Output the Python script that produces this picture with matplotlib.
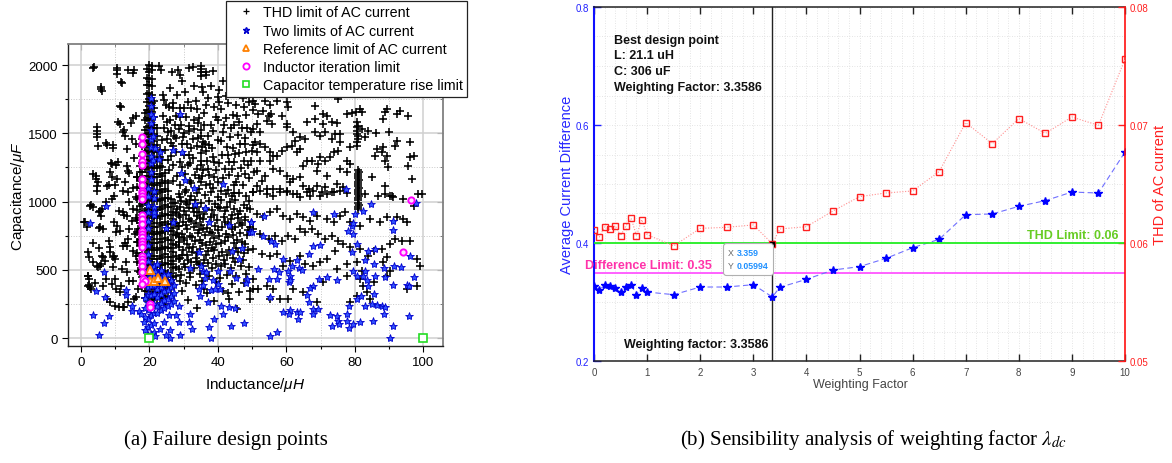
import matplotlib
matplotlib.use('Agg')
import matplotlib.pyplot as plt
from matplotlib.ticker import MultipleLocator, FuncFormatter
from matplotlib.lines import Line2D
from matplotlib.offsetbox import TextArea, HPacker, AnnotationBbox

plt.rcParams['font.family'] = ['Liberation Sans', 'DejaVu Sans']
plt.rcParams['mathtext.fontset'] = 'custom'
plt.rcParams['mathtext.it'] = 'Liberation Sans:italic'
plt.rcParams['mathtext.rm'] = 'Liberation Sans'

# ---------------- (a) failure design points : (Inductance uH, Capacitance uF) ----------------
thd_band_cols = [16.5, 17.2, 17.9, 18.6, 19.3, 20.0, 20.7, 21.4, 22.2, 23.0, 23.8, 24.6, 25.4, 26.2, 27.0, 27.8, 28.5]
thd_band_C = [
    [622, 703, 778, 862, 941, 1018, 1103, 1178],
    [482, 547, 603, 671, 722, 794, 846, 903, 971, 1028, 1097, 1148, 1215, 1258],
    [382, 448, 498, 563, 618, 687, 743, 802, 863, 924, 981, 1043, 1102, 1164, 1217, 1283, 1332, 1404, 1458],
    [291, 348, 412, 463, 527, 583, 642, 698, 763, 812, 883, 932, 998, 1052, 1113, 1167, 1238, 1286, 1353, 1407, 1472,
     1527, 1594, 1646],
    [292, 348, 413, 467, 533, 587, 652, 707, 773, 827, 892, 948, 1013, 1067, 1132, 1188, 1253, 1307, 1372, 1428, 1493,
     1547, 1613, 1667, 1732, 1787, 1853, 1907, 1972],
    [562, 617, 683, 737, 803, 857, 923, 977, 1043, 1097, 1163, 1217, 1283, 1337, 1403, 1447, 1503, 1552, 1598, 1653,
     1697, 1752, 1798, 1853, 1897, 1952, 1998],
    [282, 338, 403, 457, 523, 577, 643, 697, 763, 817, 883, 937, 1003, 1057, 1123, 1177, 1243, 1297, 1363, 1417, 1483,
     1537, 1603, 1657, 1723, 1777, 1843, 1897, 1963, 1994],
    [243, 297, 363, 417, 483, 537, 603, 657, 723, 777, 843, 897, 963, 1017, 1083, 1137, 1203, 1257, 1323, 1377, 1443,
     1497, 1563, 1617, 1683, 1738],
    [283, 337, 403, 457, 523, 577, 643, 697, 763, 817, 883, 937, 1003, 1057, 1123, 1177, 1243, 1297, 1363, 1417, 1483,
     1536],
    [242, 298, 363, 417, 483, 537, 603, 657, 723, 777, 843, 897, 963, 1017, 1083, 1137, 1203, 1257, 1323, 1378],
    [292, 348, 413, 467, 533, 587, 653, 707, 773, 827, 893, 947, 1013, 1067, 1133, 1187, 1253, 1306],
    [253, 307, 373, 427, 493, 547, 613, 667, 733, 787, 853, 907, 973, 1027, 1093, 1147, 1208],
    [302, 358, 423, 477, 543, 597, 663, 717, 783, 837, 903, 957, 1023, 1077, 1138],
    [303, 357, 423, 477, 543, 597, 663, 717, 783, 837, 903, 957, 1018],
    [392, 448, 513, 567, 633, 687, 753, 807, 873, 927, 988],
    [452, 523, 598, 683, 757, 842, 918],
    [503, 578, 664, 742, 818, 903],
]
thd_left = [(3.6, 1977), (3.9, 1985), (5.8, 1824), (6.2, 1807), (5.9, 1840), (10.4, 1963), (10.4, 1934), (10.6, 1975),
            (12.1, 1865), (11.7, 1878), (13.8, 1963), (15.6, 1963), (15.2, 1940), (11.4, 1702), (11.7, 1690),
            (4.6, 1543), (4.6, 1518), (4.8, 1494), (4.8, 1470), (5.1, 1409), (9.3, 1414), (7.5, 1414), (7.3, 1431),
            (9.3, 1390), (8.8, 1286), (9.2, 1274), (10.7, 1292), (10.2, 1270), (3.6, 1201), (4.4, 1189), (4.4, 1164),
            (4.6, 1116), (4.6, 1079), (4.9, 1140), (8.5, 1213), (9.0, 1177), (7.5, 1116), (8.3, 1121), (9.9, 1121),
            (2.6, 969), (3.6, 957), (5.6, 932), (6.0, 945), (9.5, 1042), (9.0, 1018), (12.4, 1079), (1.2, 847),
            (1.7, 810), (5.6, 810), (6.3, 798), (3.6, 700), (8.5, 664), (8.5, 627), (9.5, 603), (9.9, 578), (6.0, 603),
            (6.5, 591), (7.0, 566), (2.1, 456), (2.4, 432), (2.1, 383), (2.6, 371), (4.6, 530), (5.6, 530), (4.1, 407),
            (6.5, 378), (9.0, 395), (7.5, 285), (8.5, 261), (9.9, 236), (12.4, 231), (13.8, 261), (10.4, 822),
            (11.4, 786), (12.9, 700), (13.4, 676), (13.4, 1262), (13.8, 1225), (14.1, 1212), (10.9, 1580), (11.4, 1567),
            (12.4, 1506), (12.9, 1482), (12.7, 1522), (13.4, 1384), (12.9, 1140), (13.8, 1067), (10.4, 1164),
            (12.4, 920), (13.4, 896), (11.9, 505), (13.4, 481), (9.9, 432), (11.4, 334), (15.1, 1610), (16.1, 1630),
            (14.6, 1575), (1.0, 848), (2.9, 975), (5.4, 921), (5.7, 896), (5.4, 806), (7.3, 994), (9.7, 848),
            (11.2, 933), (12.7, 901), (14.1, 994), (15.1, 945), (16.1, 1031), (8.3, 713), (10.2, 774), (12.2, 677),
            (13.6, 725), (15.1, 640), (16.1, 603), (1.9, 628), (2.4, 595), (3.4, 554), (4.9, 518), (1.9, 457),
            (2.4, 388), (2.9, 359), (7.3, 432), (10.2, 359), (11.7, 383), (14.1, 420), (16.6, 493), (5.8, 542),
            (9.3, 518), (11.2, 230), (12.7, 226), (15.6, 286), (16.6, 359), (9.3, 591), (13.2, 554), (16.6, 701),
            (14.1, 799), (16.6, 799), (5.4, 657), (15.5, 1320), (16.2, 1420), (14.8, 1460), (16.4, 1180), (15.3, 1100),
            (16.0, 880), (14.9, 860), (15.8, 760), (16.3, 560), (15.2, 420), (16.0, 300)]
thd_mid_upper = [(22.9, 1995), (23.4, 1960), (26.6, 1946), (28.3, 1966), (28.8, 1929), (31.7, 1976), (32.7, 1988),
                 (35.1, 1995), (35.1, 1970), (35.1, 1946), (35.1, 1922), (35.3, 1841), (36.5, 1946), (36.5, 1927),
                 (38.5, 1958), (40.4, 1817), (39.9, 1768), (41.6, 1885), (23.9, 1780), (24.4, 1744), (24.9, 1707),
                 (25.6, 1690), (26.8, 1683), (28.8, 1683), (30.2, 1683), (32.2, 1683), (27.8, 1629), (29.2, 1561),
                 (31.7, 1556), (30.2, 1505), (27.8, 1463), (25.3, 1512), (25.0, 1460), (26.3, 1427), (27.8, 1366),
                 (25.3, 1305), (25.8, 1231), (28.8, 1292), (31.2, 1268), (32.7, 1317), (32.2, 1390), (34.1, 1463),
                 (34.1, 1573), (34.6, 1610), (35.1, 1524), (35.6, 1439), (35.1, 1353), (35.0, 1300), (35.6, 1231),
                 (35.1, 1146), (35.4, 1190), (35.2, 1270), (35.3, 1400), (35.0, 1480), (36.5, 1121), (38.5, 1097),
                 (37.5, 1195), (39.5, 1231), (40.4, 1280), (38.5, 1329), (37.5, 1414), (39.9, 1451), (41.4, 1512),
                 (42.4, 1610), (44.3, 1634), (46.3, 1585), (48.2, 1634), (50.2, 1671), (49.2, 1732), (47.3, 1756),
                 (45.3, 1707), (43.9, 1536), (45.8, 1488), (47.8, 1463), (49.7, 1512), (50.2, 1414), (48.2, 1366),
                 (46.3, 1353), (44.3, 1390), (42.9, 1341), (44.8, 1292), (46.8, 1244), (48.7, 1268), (50.7, 1219),
                 (49.2, 1170), (47.3, 1121), (45.3, 1146), (43.4, 1195), (41.4, 1170), (42.9, 1085), (30.7, 1085),
                 (28.8, 1121), (26.8, 1150), (32.2, 1134), (33.2, 1195), (36.5, 1707), (36.0, 1650), (38.0, 1560),
                 (40.0, 1600), (37.0, 1760), (33.5, 1740), (30.5, 1800), (26.0, 1830), (29.5, 1880), (33.0, 1850),
                 (38.8, 1690), (43.0, 1720), (41.0, 1440), (43.5, 1470), (38.3, 1395), (36.8, 1300), (33.8, 1240),
                 (30.3, 1200), (27.0, 1270), (29.5, 1420), (31.5, 1340), (33.0, 1530), (30.8, 1620), (27.5, 1560),
                 (40.0, 1140), (44.0, 1240), (46.5, 1420), (48.5, 1540), (42.5, 1770), (47.5, 1690)]
thd_mid_fill = [(24.0, 1630), (25.2, 1580), (26.4, 1520), (27.2, 1480), (28.6, 1530), (29.8, 1470), (31.0, 1420),
                (32.6, 1460), (33.8, 1410), (36.4, 1370), (37.2, 1480), (38.6, 1520), (39.4, 1620), (40.8, 1680),
                (41.8, 1560), (42.6, 1400), (44.6, 1560), (45.6, 1630), (47.0, 1540), (48.0, 1420), (49.6, 1300),
                (48.0, 1200), (46.0, 1190), (44.6, 1120), (42.0, 1240), (39.0, 1180), (37.0, 1240), (34.4, 1170),
                (32.0, 1280), (30.0, 1340), (28.2, 1190), (26.4, 1330), (24.6, 1380), (23.8, 1450), (24.4, 1540),
                (26.0, 1600), (27.0, 1720), (28.0, 1780), (31.4, 1730), (34.0, 1680), (35.8, 1800), (38.0, 1850),
                (40.2, 1730), (33.0, 1600), (31.6, 1520), (29.0, 1620), (36.0, 1560), (41.2, 1340), (45.0, 1350),
                (47.6, 1300), (43.4, 1290), (39.0, 1290), (36.2, 1420), (27.0, 1410), (29.6, 1250), (31.8, 1150),
                (34.4, 1090), (37.8, 1130), (41.0, 1080), (44.8, 1060), (27.6, 990), (28.8, 960), (30.6, 1000),
                (31.6, 950), (33.0, 920), (34.8, 880), (36.0, 910), (38.8, 900), (40.0, 960), (42.8, 960), (44.2, 900),
                (46.0, 910), (48.0, 890), (29.8, 850), (31.0, 800), (33.6, 840), (35.6, 800), (37.6, 780), (40.0, 790),
                (42.0, 850), (44.0, 800), (46.4, 840), (48.8, 790), (28.0, 770), (30.2, 720), (32.4, 740), (34.8, 720),
                (36.6, 680), (38.8, 730), (41.0, 700), (43.0, 740), (45.6, 720), (48.0, 690), (29.4, 610), (31.6, 660),
                (33.8, 620), (36.4, 610), (38.4, 660), (40.4, 600), (42.8, 610), (45.2, 660), (47.6, 620), (30.0, 540),
                (32.2, 560), (34.4, 540), (37.0, 550), (39.6, 540), (42.2, 540), (45.0, 560), (29.0, 420), (32.0, 480),
                (35.4, 420), (40.6, 440), (36.0, 360), (43.0, 330)]
thd_mid_lower = [(28.5, 1055), (30.3, 1068), (32.1, 1040), (34.0, 1062), (36.2, 1048), (38.0, 1071), (40.1, 1035),
                 (42.3, 1058), (44.0, 1044), (46.2, 1066), (48.1, 1039), (29.2, 1002), (31.0, 985), (33.3, 1010),
                 (35.1, 992), (37.4, 1005), (39.2, 981), (41.0, 1013), (43.5, 996), (45.1, 1008), (47.6, 978),
                 (49.0, 1001), (28.0, 944), (30.1, 931), (32.6, 952), (34.4, 925), (36.5, 948), (38.4, 936),
                 (40.6, 955), (42.2, 929), (44.6, 946), (46.5, 934), (48.5, 950), (29.0, 884), (31.5, 870), (33.8, 892),
                 (35.7, 875), (37.9, 888), (39.8, 866), (41.7, 890), (43.8, 874), (45.8, 881), (47.9, 868), (28.3, 818),
                 (30.6, 830), (32.9, 812), (35.0, 826), (36.9, 808), (39.1, 822), (41.1, 815), (43.0, 834), (45.1, 810),
                 (47.2, 828), (49.4, 816), (29.5, 762), (31.8, 750), (34.1, 771), (36.3, 755), (38.2, 768), (40.4, 748),
                 (42.5, 765), (44.3, 752), (46.6, 770), (48.6, 758), (28.7, 703), (30.9, 690), (33.2, 712), (35.5, 695),
                 (37.6, 706), (39.6, 688), (42.0, 710), (44.8, 697), (47.0, 705), (29.9, 642), (32.3, 628), (34.8, 650),
                 (37.1, 635), (39.0, 648), (41.3, 630), (43.4, 645), (46.0, 633), (48.8, 647), (28.9, 584), (31.2, 570),
                 (33.6, 590), (36.0, 575), (38.7, 588), (41.8, 572), (44.5, 586), (47.4, 574), (30.4, 522), (33.0, 510),
                 (35.8, 528), (38.2, 515), (40.9, 525), (43.9, 512), (46.8, 530), (49.2, 518), (29.3, 462), (31.9, 450),
                 (34.7, 468), (37.3, 455), (42.6, 465), (45.4, 452), (48.3, 470), (30.8, 402), (33.5, 390), (39.4, 408),
                 (44.1, 395), (47.5, 405), (29.6, 342), (36.7, 330), (41.5, 348), (46.1, 335), (49.5, 345), (31.4, 282),
                 (38.9, 270), (43.2, 288), (33.9, 222), (45.7, 215), (29.0, 1030), (31.8, 1015), (33.9, 960),
                 (30.7, 905), (32.2, 860), (34.6, 795), (30.0, 735), (32.6, 670), (31.1, 610), (34.0, 555)]
thd_right_upper = [(50.4, 1739), (50.9, 1714), (51.8, 1641), (53.8, 1739), (53.3, 1665), (55.2, 1707), (54.8, 1629),
                   (54.3, 1592), (55.4, 1641), (58.7, 1629), (55.7, 1568), (51.3, 1568), (50.4, 1531), (52.3, 1507),
                   (57.2, 1739), (60.1, 1726), (60.6, 1690), (60.1, 1568), (60.1, 1543), (66.0, 1580), (68.4, 1702),
                   (68.4, 1604), (70.8, 1641), (71.8, 1629), (70.8, 1568), (73.3, 1580), (74.7, 1572), (75.2, 1751),
                   (77.7, 1641), (79.1, 1648), (80.4, 1658), (81.6, 1677), (82.1, 1653), (80.8, 1580), (80.6, 1543),
                   (80.6, 1519), (81.1, 1482), (82.1, 1531), (84.0, 1519), (86.2, 1502), (83.0, 1470), (88.4, 1604),
                   (88.9, 1653), (89.4, 1677), (92.3, 1641), (93.3, 1665), (95.7, 1629), (90.1, 1511), (91.8, 1409),
                   (92.3, 1446), (96.2, 1433), (96.2, 1323), (97.2, 1336), (95.5, 1262), (96.7, 1165), (98.6, 1055),
                   (88.4, 1397), (87.9, 1360), (89.4, 1336), (88.9, 1299), (89.8, 1250), (85.0, 1177), (88.9, 1116),
                   (86.9, 1043), (90.8, 1038), (86.4, 1384), (85.9, 1336), (78.6, 1397), (77.7, 1299), (75.7, 1433),
                   (75.2, 1372), (73.8, 1360), (72.8, 1323), (71.3, 1299), (69.9, 1323), (69.4, 1275), (68.9, 1226),
                   (67.4, 1299), (66.0, 1299), (65.0, 1262), (64.0, 1177), (63.0, 1360), (64.0, 1384), (61.6, 1409),
                   (60.1, 1397), (58.7, 1372), (57.2, 1336), (56.2, 1336), (55.2, 1360), (53.8, 1397), (52.3, 1421),
                   (50.9, 1433), (49.9, 1372), (51.3, 1360), (52.3, 1299), (55.2, 1299), (56.2, 1238), (53.8, 1189),
                   (51.3, 1226), (52.8, 1152), (58.2, 1226), (60.1, 1189), (61.1, 1140), (62.1, 1165), (65.0, 1116),
                   (66.5, 1091), (68.9, 1116), (71.3, 1104), (71.8, 1189), (74.7, 1128), (73.3, 1067), (76.7, 1104),
                   (77.7, 1214), (78.6, 1275), (75.7, 1238), (70.4, 1067), (66.9, 1043), (63.0, 1055), (60.1, 1067),
                   (58.2, 1091), (56.2, 1091), (54.3, 1091), (51.3, 1116), (50.4, 1067), (68.4, 1507), (69.9, 1482),
                   (71.3, 1507), (73.3, 1458), (74.3, 1494), (75.7, 1494), (64.0, 1470), (65.5, 1458), (62.1, 1507),
                   (62.6, 1446), (80.8, 1409), (80.8, 1433), (80.9, 1458), (80.7, 1495), (81.0, 1555),
                   (81.1, 948), (81.1, 963), (81.2, 978), (81.1, 993), (81.0, 1008), (81.1, 1023), (81.2, 1038),
                   (81.1, 1053), (81.0, 1068), (81.1, 1083), (81.2, 1098), (81.1, 1113), (81.0, 1128), (81.1, 1143),
                   (81.2, 1158), (81.1, 1173), (81.0, 1188), (81.1, 1203), (81.2, 1218), (81.1, 1232)]
thd_right_lower = [(50.4, 1067), (52.3, 1079), (54.3, 1055), (56.2, 1043), (58.2, 1067), (60.1, 1079), (62.1, 1055),
                   (64.0, 1031), (66.0, 1067), (67.9, 1079), (69.9, 1043), (71.8, 1055), (73.8, 1067), (75.7, 1079),
                   (77.7, 1062), (83.0, 1055), (88.9, 1055), (90.3, 1043), (91.3, 1031), (94.2, 1018), (97.2, 970),
                   (99.6, 1055), (49.4, 945), (51.3, 908), (53.3, 884), (55.2, 921), (57.2, 945), (59.1, 896),
                   (61.1, 872), (63.0, 908), (65.0, 884), (66.9, 860), (68.9, 896), (71.8, 872), (73.8, 847),
                   (75.7, 896), (77.2, 921), (78.6, 847), (81.6, 823), (84.5, 872), (87.4, 847), (89.4, 884),
                   (92.3, 884), (94.2, 872), (95.2, 847), (96.2, 713), (98.1, 579), (99.1, 530), (50.4, 799),
                   (52.3, 762), (54.8, 725), (56.7, 750), (58.7, 713), (60.6, 750), (62.6, 725), (64.0, 799),
                   (65.5, 774), (67.4, 799), (69.4, 762), (71.3, 725), (73.3, 750), (75.2, 713), (76.7, 689),
                   (78.6, 664), (81.6, 652), (84.0, 603), (85.5, 640), (87.9, 652), (90.3, 689), (89.4, 591),
                   (91.8, 725), (93.7, 713), (50.4, 652), (52.8, 616), (55.2, 603), (57.2, 616), (59.1, 530),
                   (61.1, 567), (64.0, 603), (65.5, 542), (67.9, 530), (69.9, 554), (71.8, 579), (74.3, 640),
                   (77.7, 542), (80.6, 554), (82.1, 493), (81.6, 432), (82.5, 383), (83.5, 335), (84.5, 286),
                   (80.6, 310), (78.6, 261), (55.2, 286), (51.8, 359), (50.4, 432), (49.4, 286), (54.3, 383),
                   (56.2, 359), (58.2, 286), (60.6, 286), (62.1, 359), (65.0, 335), (68.9, 261), (70.8, 408),
                   (74.7, 506), (77.7, 457), (85.5, 408), (88.4, 554), (90.3, 493), (95.2, 359), (98.1, 383),
                   (89.4, 457), (50.2, 359)]

two_band_cols = [19.7, 20.4, 21.3, 22.3, 23.3, 24.3, 25.3, 26.3, 27.3, 18.8, 20.9]
two_band_C = [
    [22, 83, 138, 204, 258, 323, 377, 443, 497, 563, 617, 683, 737, 803, 857, 923, 977, 1043, 1097],
    [32, 98, 172, 238, 313, 378, 452, 518, 1163, 1217, 1283, 1337, 1403, 1457, 1523, 1577, 1643, 1697, 1758],
    [42, 108, 183, 248, 322, 388, 462, 528, 903, 957, 1023, 1078],
    [183, 237, 303, 357, 423, 477, 543],
    [203, 257, 323, 377, 443, 498],
    [223, 277, 343, 397, 462],
    [232, 288, 352, 408, 468],
    [252, 308, 372, 428],
    [272, 328, 388],
    [62, 152, 218, 292],
    [1302, 1478, 1622],
]
two_scatter = [(7.3, 970), (2.6, 840), (6.8, 486), (4.4, 342), (7.1, 303), (3.6, 170), (8.3, 162), (13.2, 314),
               (14.9, 197), (6.6, 108), (5.4, 24), (17.0, 197), (17.5, 176), (18.5, 115), (21.7, 1390), (23.1, 1366),
               (26.8, 1378), (29.5, 1360), (29.1, 1207), (30.5, 1158), (33.1, 1102), (41.6, 1126), (29.0, 1639),
               (22.7, 1312), (21.4, 921), (24.7, 803), (27.0, 847), (21.7, 493), (24.9, 420), (21.7, 17), (23.2, 66),
               (24.4, 115), (25.8, 169), (27.8, 169), (26.0, 61), (26.1, -2), (24.9, 24), (29.0, 24), (28.6, 115),
               (28.7, 237), (31.7, 115), (32.5, 66), (31.8, 176), (33.4, 982), (36.1, 950), (37.5, 847), (43.2, 828),
               (31.9, 513), (35.1, 530), (35.6, 493), (36.5, 481), (40.0, 493), (34.6, 628), (34.4, 359), (34.9, 310),
               (35.6, 391), (36.1, 437), (38.5, 427), (40.0, 396), (40.6, 359), (38.0, 354), (39.3, 359), (37.0, 261),
               (40.9, 237), (41.4, 176), (39.0, 139), (37.5, 78), (38.0, 0), (43.9, 85), (43.2, 225), (45.0, 217),
               (47.5, 110), (49.7, 853), (49.5, 779), (47.0, 657), (44.1, 640), (45.3, 437), (43.6, 493), (48.5, 432),
               (48.2, 403), (46.3, 579), (53.5, 896), (49.6, 847), (49.9, 779), (53.3, 750), (55.4, 713), (56.7, 689),
               (58.9, 579), (51.8, 506), (56.4, 506), (55.0, 432), (57.2, 432), (58.0, 481), (60.4, 493), (61.6, 525),
               (63.8, 510), (64.5, 501), (61.1, 452), (60.9, 408), (63.0, 574), (66.5, 615), (67.9, 676), (69.9, 681),
               (69.7, 432), (72.0, 449), (74.7, 425), (67.9, 383), (66.9, 364), (66.0, 315), (66.5, 261), (67.9, 212),
               (69.4, 212), (67.9, 176), (59.1, 193), (61.1, 207), (63.0, 193), (64.0, 188), (60.9, 176), (63.5, 139),
               (72.8, 168), (74.7, 164), (75.2, 127), (75.5, 103), (73.3, 85), (77.7, 176), (78.2, 232), (77.7, 127),
               (78.2, 71), (79.6, 103), (81.6, 115), (85.3, 127), (83.0, 237), (85.0, 249), (86.4, 242), (87.9, 232),
               (88.9, 225), (88.7, 176), (85.7, 322), (84.0, 383), (83.5, 427), (83.0, 493), (80.6, 452), (82.5, 452),
               (80.8, 286), (81.9, 310), (86.0, 452), (88.9, 444), (88.6, 510), (91.3, 388), (95.2, 388), (96.0, 378),
               (97.2, 444), (96.0, 159), (91.3, 85), (90.3, -2), (91.6, 525), (93.5, 518), (96.2, 603), (85.7, 542),
               (86.0, 652), (84.0, 640), (83.0, 574), (79.6, 493), (79.1, 632), (79.4, 762), (79.1, 823), (79.6, 843),
               (77.9, 786), (80.8, 689), (82.5, 933), (84.7, 982), (73.8, 908), (80.1, 908), (91.3, 860), (91.3, 794),
               (97.9, 989), (67.9, 921), (55.2, 298), (55.2, 17), (57.2, 42), (61.1, 427), (77.5, 1091), (15.0, 236),
               (13.1, 354)]
ref_limit = [(20.2, 501), (20.3, 415), (21.2, 415), (22.4, 437), (24.6, 420)]
inductor_limit = [(17.9, 1475), (17.9, 1420), (17.9, 1350), (17.9, 1300), (17.9, 1270), (17.9, 1165), (17.9, 1120),
                  (17.9, 1075), (17.9, 1065), (17.9, 1040), (17.9, 1018), (17.9, 900), (17.9, 870), (17.9, 838),
                  (17.9, 786), (17.9, 762), (17.9, 737), (17.9, 713), (17.9, 689), (17.9, 664), (17.9, 603),
                  (17.9, 579), (17.9, 554), (17.9, 530), (17.9, 481), (18.0, 432), (18.8, 420), (17.9, 396),
                  (20.2, 249), (20.2, 225), (96.5, 1011), (94.0, 632)]
cap_temp_limit = [(20.0, 0), (100.0, 0)]

# ---------------- (b) sensibility analysis ----------------
weighting_factor = [0, 0.1, 0.2, 0.3, 0.4, 0.5, 0.6, 0.7, 0.8, 0.9, 1.0, 1.5, 2, 2.5, 3, 3.3586, 3.5, 4, 4.5, 5,
                    5.5, 6, 6.5, 7, 7.5, 8, 8.5, 9, 9.5, 10]
avg_current_diff = [0.3266, 0.3209, 0.3282, 0.3266, 0.3232, 0.3164, 0.3254, 0.3294, 0.3119, 0.3243, 0.3169,
                    0.3124, 0.3254, 0.3254, 0.3294, 0.3085, 0.3249, 0.3384, 0.3542, 0.3599, 0.3740, 0.3920,
                    0.4062, 0.4480, 0.4492, 0.4621, 0.4718, 0.4864, 0.4847, 0.5542]
thd_ac = [0.06107, 0.06051, 0.06136, 0.06116, 0.06147, 0.06062, 0.06144, 0.06209, 0.06062, 0.06198, 0.06071,
          0.05975, 0.06124, 0.06133, 0.06153, 0.05994, 0.06119, 0.06138, 0.06271, 0.06393, 0.06424, 0.06441,
          0.06605, 0.07020, 0.06842, 0.07054, 0.06929, 0.07068, 0.06997, 0.07559]
best_wf = 3.3586
best_thd = 0.05994
diff_limit = 0.35
thd_limit = 0.06

# ---------------- figure ----------------
W, H = 1172, 464
fig = plt.figure(figsize=(W / 100, H / 100), dpi=100)


def pbox(x0, y0, x1, y1):
    return [x0 / W, 1 - y1 / H, (x1 - x0) / W, (y1 - y0) / H]


# ===== (a) =====
axL = fig.add_axes(pbox(68, 45, 443, 347))
axL.set_xlim(-3.8, 105.8)
axL.set_ylim(-58, 2154)
axL.set_axisbelow(True)

band_pts = [(L, c) for L, cs in zip(thd_band_cols, thd_band_C) for c in cs]
black = thd_left + thd_mid_upper + thd_mid_fill + thd_mid_lower + thd_right_upper + thd_right_lower + band_pts
axL.plot([p[0] for p in black], [p[1] for p in black], ls='none', marker='+', ms=5.5, mew=1.15, color='black')

blue_band = [(L, c) for L, cs in zip(two_band_cols, two_band_C) for c in cs]
blue = blue_band + two_scatter
axL.plot([p[0] for p in blue], [p[1] for p in blue], ls='none', marker='*', ms=6, mew=0.6,
         mfc='#3050FF', mec='#0000CC')
axL.plot([p[0] for p in ref_limit], [p[1] for p in ref_limit], ls='none', marker='^', ms=5.5, mew=1.4,
         mfc='#FFE6C8', mec='#FF8000')
axL.plot([p[0] for p in inductor_limit], [p[1] for p in inductor_limit], ls='none', marker='o', ms=4.5, mew=1.4,
         mfc='#FFE0FF', mec='#FF00FF')
axL.plot([p[0] for p in cap_temp_limit], [p[1] for p in cap_temp_limit], ls='none', marker='s', ms=5.5, mew=1.2,
         mfc='white', mec='#22DD22', clip_on=False, zorder=5)

axL.xaxis.set_major_locator(MultipleLocator(20))
axL.xaxis.set_minor_locator(MultipleLocator(10))
axL.yaxis.set_major_locator(MultipleLocator(500))
axL.yaxis.set_minor_locator(MultipleLocator(250))
axL.grid(which='major', color='#D0D0D0', lw=1.1, ls='-')
axL.grid(which='minor', color='#C8C8C8', lw=0.7, ls=':')
axL.tick_params(which='major', direction='out', length=4, width=0.8, labelsize=9.5, colors='black')
axL.tick_params(which='minor', direction='out', length=2.5, width=0.8)
for s in ['top', 'right']:
    axL.spines[s].set_color('#808080')
    axL.spines[s].set_linewidth(1.3)
for s in ['left', 'bottom']:
    axL.spines[s].set_color('#202020')
    axL.spines[s].set_linewidth(1.0)
sx = axL.secondary_xaxis('top')
sx.xaxis.set_major_locator(MultipleLocator(20))
sx.xaxis.set_minor_locator(MultipleLocator(10))
sx.tick_params(which='both', direction='in', labeltop=False, colors='#606060')
sx.tick_params(which='major', length=4)
sx.tick_params(which='minor', length=2.5)
sx.spines['top'].set_visible(False)
sy = axL.secondary_yaxis('right')
sy.yaxis.set_major_locator(MultipleLocator(500))
sy.yaxis.set_minor_locator(MultipleLocator(250))
sy.tick_params(which='both', direction='in', labelright=False, colors='#606060')
sy.tick_params(which='major', length=4)
sy.tick_params(which='minor', length=2.5)
sy.spines['right'].set_visible(False)

fig.text(255 / W, 1 - 385 / H, 'Inductance/$\\mu H$', ha='center', va='center', fontsize=11)
fig.text(18 / W, 1 - 196 / H, 'Capacitance/$\\mu F$', ha='center', va='center', fontsize=11, rotation=90)

handles = [
    Line2D([], [], ls='none', marker='+', ms=4, mew=0.9, color='black'),
    Line2D([], [], ls='none', marker='*', ms=5, mfc='#3050FF', mec='#0000CC'),
    Line2D([], [], ls='none', marker='^', ms=5, mew=1.3, mfc='white', mec='#FF8000'),
    Line2D([], [], ls='none', marker='o', ms=4.5, mew=1.3, mfc='white', mec='#FF00FF'),
    Line2D([], [], ls='none', marker='s', ms=5, mew=1.2, mfc='white', mec='#22DD22'),
]
labels = ['THD limit of AC current', 'Two limits of AC current', 'Reference limit of AC current',
          'Inductor iteration limit', 'Capacitor temperature rise limit']
leg = fig.legend(handles, labels, loc='upper left', bbox_to_anchor=(226 / W, 1 - 2 / H), fontsize=10.3,
                 frameon=True, fancybox=False, edgecolor='#222222', framealpha=1, borderaxespad=0,
                 handlelength=2.2, handletextpad=0.1, labelspacing=0.3, borderpad=0.3)
leg.get_frame().set_linewidth(0.9)

# ===== (b) =====
ax = fig.add_axes(pbox(594, 8, 1125, 362))
ax2 = ax.twinx()
ax.set_xlim(0, 10)
ax.set_ylim(0.2, 0.8)
ax2.set_ylim(0.05, 0.08)
ax.set_axisbelow(True)

ax.xaxis.set_major_locator(MultipleLocator(1))
ax.xaxis.set_minor_locator(MultipleLocator(0.2))
ax.yaxis.set_major_locator(MultipleLocator(0.2))
ax.yaxis.set_minor_locator(MultipleLocator(0.05))
ax2.yaxis.set_major_locator(MultipleLocator(0.01))
ax.grid(which='both', color='#DCDCDC', lw=0.6, ls=(0, (1, 2)))

ax2.axhline(thd_limit, color='#22EE22', lw=1.3, zorder=2)
ax.axhline(diff_limit, color='#FF55FF', lw=1.3, zorder=2)
ax.axvline(best_wf, color='#222222', lw=1.0, zorder=2)

ax.plot(weighting_factor, avg_current_diff, color='#7070FF', lw=0.8, ls=(0, (5, 3)), marker='*', ms=6,
        mfc='#0000FF', mec='#0000FF', zorder=4)
ax2.plot(weighting_factor, thd_ac, color='#FF9090', lw=0.8, ls=(0, (1, 1.5)), marker='s', ms=4.2, mew=1.0,
         mfc='none', mec='#FF2020', zorder=4)
ax2.plot([best_wf], [best_thd], ls='none', marker='s', ms=2.5, color='black', zorder=6)

ax.tick_params(axis='x', which='major', direction='in', length=5, width=1.0, top=True, labelsize=7,
               labelcolor='#444444', color='#222222', pad=4)
ax.tick_params(axis='x', which='minor', length=0, top=True)
ax.tick_params(axis='y', which='major', direction='in', length=5, width=1.0, labelsize=7, colors='#2020FF')
ax.tick_params(axis='y', which='minor', length=0)
ax2.tick_params(axis='y', which='major', direction='in', length=5, width=1.0, labelsize=7, colors='#FF2020')
ax.yaxis.set_major_formatter(FuncFormatter(lambda v, p: f'{v:.1f}'))
ax2.yaxis.set_major_formatter(FuncFormatter(lambda v, p: f'{v:.2f}'))

ax.spines['left'].set_color('#1010FF')
ax.spines['left'].set_linewidth(1.5)
ax.spines['right'].set_visible(False)
ax2.spines['left'].set_visible(False)
ax2.spines['right'].set_color('#FF1010')
ax2.spines['right'].set_linewidth(1.2)
for s in ['top', 'bottom']:
    ax.spines[s].set_color('#222222')
    ax.spines[s].set_linewidth(1.1)
    ax2.spines[s].set_visible(False)

ax.text(0.38, 0.755, 'Best design point\nL: 21.1 uH\nC: 306 uF\nWeighting Factor: 3.3586', fontsize=9,
        fontweight='bold', va='top', ha='left', linespacing=1.42, color='#111111')
ax.text(-0.17, 0.363, 'Difference Limit: 0.35', fontsize=9, fontweight='bold', color='#FF33AA', va='center',
        ha='left', clip_on=False)
ax.text(9.87, 0.414, 'THD Limit: 0.06', fontsize=9, fontweight='bold', color='#66CC22', va='center', ha='right')
ax.text(3.28, 0.229, 'Weighting factor: 3.3586', fontsize=9, fontweight='bold', color='#111111', va='center',
        ha='right')

ta1 = TextArea('X\nY', textprops=dict(fontsize=6.3, color='#666666', linespacing=1.6))
ta2 = TextArea('3.359\n0.05994', textprops=dict(fontsize=6.3, color='#1E90FF', fontweight='bold', linespacing=1.6))
pack = HPacker(children=[ta1, ta2], pad=0, sep=2, align='top')
tip = AnnotationBbox(pack, (best_wf, best_thd), xybox=(-3, -3), xycoords='data', boxcoords='offset points',
                     box_alignment=(1, 1), frameon=True, pad=0.35,
                     bboxprops=dict(boxstyle='round,pad=0.35,rounding_size=0.2', fc='white', ec='#B0B0B0', lw=0.8))
tip.set_zorder(8)
ax2.add_artist(tip)

fig.text(567 / W, 1 - 185 / H, 'Average Current Difference', rotation=90, ha='center', va='center',
         fontsize=10.5, color='#2828FF')
fig.text(1160 / W, 1 - 185 / H, 'THD of AC current', rotation=90, ha='center', va='center',
         fontsize=10.5, color='#FF2020')
fig.text(860 / W, 1 - 385 / H, 'Weighting Factor', ha='center', va='center', fontsize=9, color='#444444')

fig.text(226 / W, 1 - 440 / H, '(a) Failure design points', ha='center', va='center', fontsize=15,
         family='Liberation Serif')
fig.text(873 / W, 1 - 440 / H, '(b) Sensibility analysis of weighting factor $\\lambda_{dc}$', ha='center',
         va='center', fontsize=15, family='Liberation Serif', math_fontfamily='stix')

fig.savefig('out.png', dpi=100)
